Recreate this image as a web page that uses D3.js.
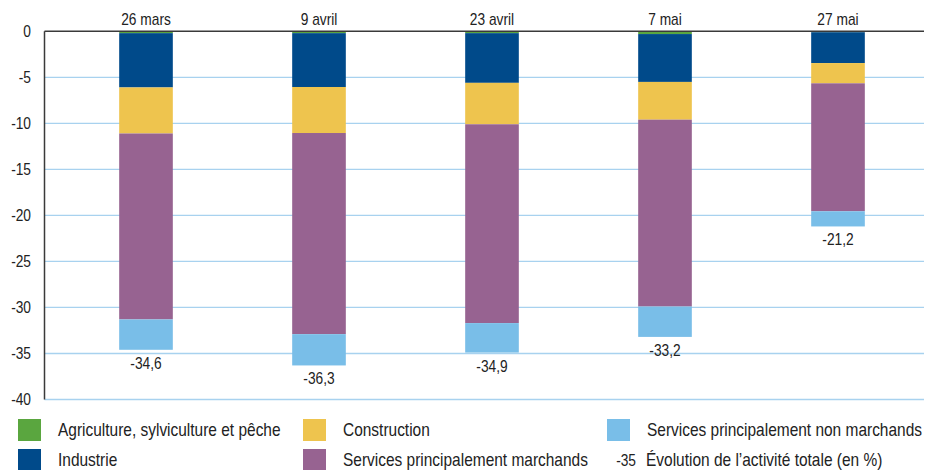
<!DOCTYPE html>
<html>
<head>
<meta charset="utf-8">
<script src="https://cdn.jsdelivr.net/npm/d3@7"></script>
<style>
  body { margin: 0; background: #fff; }
  svg text { font-family: "Liberation Sans", Arial, sans-serif; fill: #222; }
</style>
</head>
<body>
<div id="chart"></div>
<script>
const dates = ['26 mars', '9 avril', '23 avril', '7 mai', '27 mai'];
const agriculture = [-0.2, -0.2, -0.2, -0.3, -0.1];
const industrie = [-5.9, -5.85, -5.4, -5.2, -3.35];
const construction = [-5.0, -5.0, -4.5, -4.1, -2.2];
const marchands = [-20.2, -21.85, -21.6, -20.3, -13.9];
const nonMarchands = [-3.3, -3.4, -3.2, -3.3, -1.65];
const totals = [-34.6, -36.3, -34.9, -33.2, -21.2];
const yTicks = [0, -5, -10, -15, -20, -25, -30, -35, -40];

const seriesKeys = ['agri', 'ind', 'cons', 'march', 'nonmarch'];
const seriesNames = {
  agri: 'Agriculture, sylviculture et pêche',
  ind: 'Industrie',
  cons: 'Construction',
  march: 'Services principalement marchands',
  nonmarch: 'Services principalement non marchands'
};
const colors = {
  agri: '#5aa63f',
  ind: '#004a8a',
  cons: '#eec44e',
  march: '#976391',
  nonmarch: '#79bee8'
};

const rows = dates.map((d, i) => ({
  date: d,
  agri: agriculture[i],
  ind: industrie[i],
  cons: construction[i],
  march: marchands[i],
  nonmarch: nonMarchands[i],
  total: totals[i]
}));

const width = 933, height = 470;
const svg = d3.select('#chart').append('svg')
  .attr('width', width)
  .attr('height', height);

// the original uses a narrow font, squeeze text horizontally
const narrowK = 0.86;
const narrowText = (sel, fx, fy) => {
  sel.attr('transform', (d, i) => 'translate(' + fx(d, i) + ',' + fy(d, i) + ') scale(' + narrowK + ',1)');
};

const x = d3.scaleBand()
  .domain(dates)
  .range([59.5, 924.5])
  .paddingInner(0.69)
  .paddingOuter(0.345);

const y = d3.scaleLinear()
  .domain([-40, 0])
  .range([399.5, 31.3]);

// grid lines
svg.append('g')
  .selectAll('line')
  .data(yTicks.filter(t => t !== 0))
  .enter()
  .append('line')
  .attr('x1', 44.5)
  .attr('x2', 924)
  .attr('y1', d => y(d))
  .attr('y2', d => y(d))
  .style('stroke', '#a8d2ef')
  .style('stroke-width', 1.3);

// y axis labels
svg.append('g')
  .selectAll('text')
  .data(yTicks)
  .enter()
  .append('text')
  .attr('dy', '.35em')
  .attr('text-anchor', 'end')
  .style('font-size', '16px')
  .call(narrowText, () => 31, d => y(d))
  .text(d => d);

const stack = d3.stack()
  .keys(seriesKeys)
  .offset(d3.stackOffsetDiverging);

const layers = stack(rows);

svg.append('g')
  .selectAll('g')
  .data(layers)
  .enter()
  .append('g')
  .style('fill', d => colors[d.key])
  .selectAll('rect')
  .data(d => d)
  .enter()
  .append('rect')
  .attr('x', d => x(d.data.date))
  .attr('width', x.bandwidth())
  .attr('y', d => y(Math.max(d[0], d[1])))
  .attr('height', d => Math.abs(y(d[0]) - y(d[1])));

// zero line and y axis line
svg.append('line')
  .attr('x1', 44.5).attr('x2', 924)
  .attr('y1', y(0)).attr('y2', y(0))
  .style('stroke', '#3a3a3a')
  .style('stroke-width', 1.5);

svg.append('line')
  .attr('x1', 44.5).attr('x2', 44.5)
  .attr('y1', y(0)).attr('y2', y(-40))
  .style('stroke', '#3a3a3a')
  .style('stroke-width', 1.5);

// date labels
svg.append('g')
  .selectAll('text')
  .data(rows)
  .enter()
  .append('text')
  .attr('text-anchor', 'middle')
  .style('font-size', '16px')
  .call(narrowText, d => x(d.date) + x.bandwidth() / 2, () => 25)
  .text(d => d.date);

// totals
svg.append('g')
  .selectAll('text')
  .data(rows)
  .enter()
  .append('text')
  .attr('text-anchor', 'middle')
  .style('font-size', '16px')
  .call(narrowText, d => x(d.date) + x.bandwidth() / 2, d => y(d.total) + 19)
  .text(d => String(d.total).replace('.', ','));

// legend
const legendItems = [
  { key: 'agri', col: 0, row: 0 },
  { key: 'ind', col: 0, row: 1 },
  { key: 'cons', col: 1, row: 0 },
  { key: 'march', col: 1, row: 1 },
  { key: 'nonmarch', col: 2, row: 0 }
];
const colX = [18, 303, 607];
const rowY = [419, 449];

const legend = svg.append('g');
const item = legend.selectAll('g')
  .data(legendItems)
  .enter()
  .append('g')
  .attr('transform', d => 'translate(' + colX[d.col] + ',' + rowY[d.row] + ')');

item.append('rect')
  .attr('width', 23)
  .attr('height', 22)
  .style('fill', d => colors[d.key]);

item.append('text')
  .attr('dy', '.35em')
  .style('font-size', '18px')
  .call(narrowText, () => 40, () => 11)
  .text(d => seriesNames[d.key]);

const totalLegend = legend.append('g')
  .attr('transform', 'translate(' + colX[2] + ',' + rowY[1] + ')');
totalLegend.append('text')
  .attr('dy', '.35em')
  .attr('text-anchor', 'end')
  .style('font-size', '16px')
  .call(narrowText, () => 29, () => 11)
  .text('-35');
totalLegend.append('text')
  .attr('dy', '.35em')
  .style('font-size', '18px')
  .call(narrowText, () => 39, () => 11)
  .text('Évolution de l\u2019activité totale (en %)');
</script>
</body>
</html>
